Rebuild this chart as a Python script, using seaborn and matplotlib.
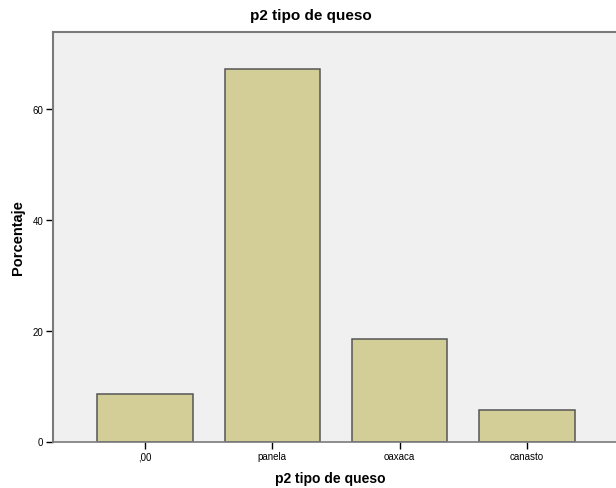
import numpy as np
import pandas as pd
import seaborn as sns
import matplotlib.pyplot as plt

# === data ===
categorias = [",00", "panela", "oaxaca", "canasto"]
porcentaje = [8.6, 67.2, 18.5, 5.7]
yticks = [0, 20, 40, 60]

df = pd.DataFrame({"tipo": categorias, "Porcentaje": porcentaje})

sns.set_style("white")
plt.rcParams["font.family"] = ["Liberation Sans", "DejaVu Sans"]
plt.rcParams["text.color"] = "black"
plt.rcParams["axes.labelcolor"] = "black"
plt.rcParams["xtick.color"] = "black"
plt.rcParams["ytick.color"] = "black"

fig = plt.figure(figsize=(6.16, 4.89), dpi=100)
ax = fig.add_axes([53 / 616, (489 - 442.5) / 489, (619 - 53) / 616, (442.5 - 33) / 489])
ax.set_facecolor("#F0F0F0")

sns.barplot(data=df, x="tipo", y="Porcentaje", color="#D3CE97", width=0.75,
            edgecolor="#555555", linewidth=1.1, saturation=1, ax=ax)

ax.set_xlim(-0.723, 3.723)
ax.set_ylim(0, 73.9)
ax.set_yticks(yticks)

for side in ["left", "top"]:
    ax.spines[side].set_color("#7a7a7a")
    ax.spines[side].set_linewidth(1.5)
ax.spines["bottom"].set_color("#7a7a7a")
ax.spines["bottom"].set_linewidth(1.2)
ax.spines["right"].set_visible(False)

ax.tick_params(axis="both", direction="out", length=5, width=1, color="black",
               labelsize=7, pad=2, left=True, bottom=True)

# SPSS centres the title on the whole chart, not on the plot area
fig.suptitle("p2 tipo de queso", x=311 / 616, y=1 - 9 / 489, va="top",
             fontsize=11, fontweight="bold")
ax.set_xlabel("p2 tipo de queso", fontsize=10, fontweight="bold")
ax.xaxis.set_label_coords((330 - 53) / (619 - 53), -0.072)
ax.set_ylabel("Porcentaje", fontsize=10.5, fontweight="bold", labelpad=5)

fig.savefig("out.png", dpi=100)
